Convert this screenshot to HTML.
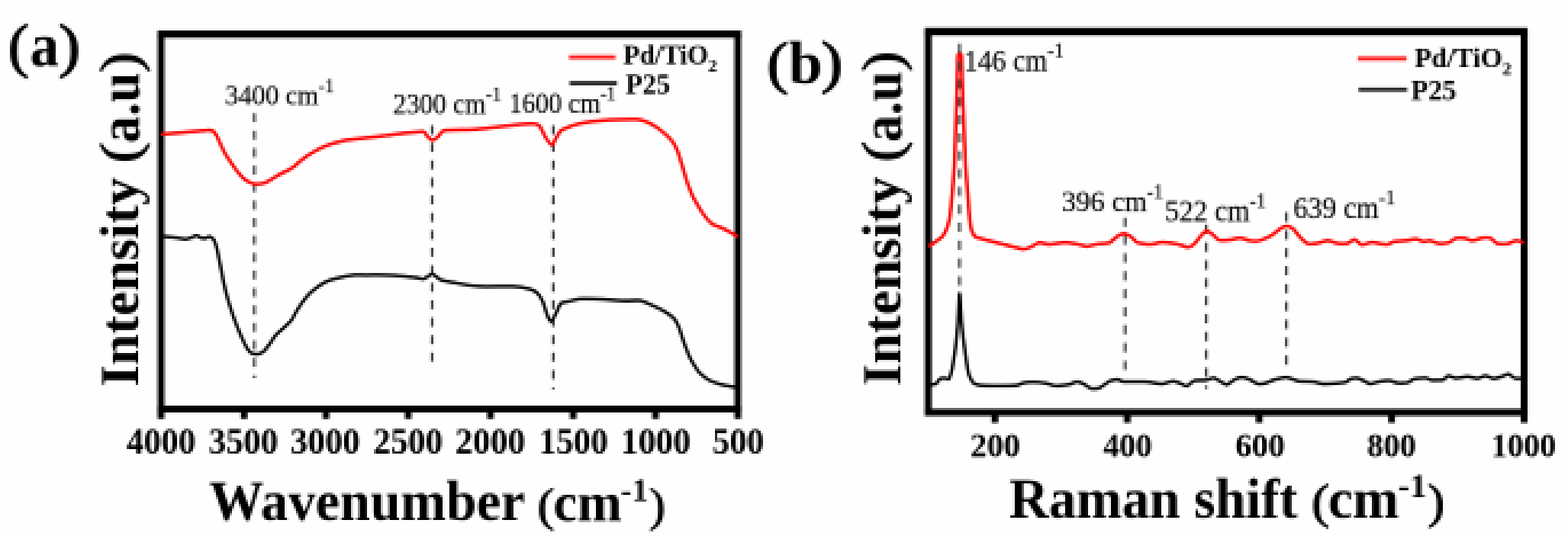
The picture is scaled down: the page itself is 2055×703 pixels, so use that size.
<!DOCTYPE html>
<html lang="en"><head><meta charset="utf-8"><title>FTIR and Raman spectra of Pd/TiO2 and P25</title>
<style>
html,body{margin:0;padding:0;background:#fefefe;}
body{width:2055px;height:703px;overflow:hidden;}
svg{display:block;font-family:"Liberation Serif","Times New Roman",serif;font-size:100px;}
text{white-space:pre;}
.c{fill:none;stroke-linejoin:round;stroke-linecap:butt;}
.d line{stroke:#444;stroke-width:3.6;stroke-dasharray:11.8 11.12;}
.d .b{stroke-dasharray:12.2 11.27;}
</style></head>
<body>
<svg width="2055" height="703" viewBox="0 0 2055 703">
<defs><filter id="px" x="0" y="0" width="2055" height="703" filterUnits="userSpaceOnUse" color-interpolation-filters="sRGB">
<feConvolveMatrix in="SourceGraphic" order="3" kernelMatrix="1 1 1 1 1 1 1 1 1" divisor="9" edgeMode="duplicate" preserveAlpha="true" result="avg"/>
<feFlood x="2" y="2" width="1" height="1" flood-color="#000" result="dot"/>
<feComposite in="dot" in2="dot" operator="over" x="1" y="1" width="3" height="3" result="cell"/>
<feTile in="cell" x="0" y="0" width="2055" height="703" result="grid"/>
<feComposite in="avg" in2="grid" operator="in" result="smp"/>
<feMorphology in="smp" operator="dilate" radius="1"/>
</filter></defs>
<g filter="url(#px)">
<rect width="2055" height="703" fill="#fefefe"/>
<g class="d">
<line x1="333.4" y1="148.5" x2="333.4" y2="496"/>
<line x1="566.4" y1="164.6" x2="566.4" y2="475.2"/>
<line x1="725.2" y1="164.6" x2="725.2" y2="511"/>
<line x1="1474.6" y1="285.4" x2="1474.6" y2="487.5" class="b"/>
<line x1="1580.9" y1="294.5" x2="1580.9" y2="510" class="b"/>
<line x1="1685.9" y1="278.5" x2="1685.9" y2="481.2" class="b"/>
</g>
<g class="c">
<path d="M211.0,309.7 C212.9,309.9 226.6,311.2 229.9,311.6 C233.2,312.0 241.6,313.7 243.7,313.7 C245.8,313.7 249.8,312.1 251.2,311.6 C252.5,311.1 255.9,308.8 257.2,308.8 C258.5,308.8 262.8,311.6 264.0,312.0 C265.2,312.4 268.2,312.6 269.3,312.4 C270.4,312.2 273.6,310.1 274.7,310.3 C275.8,310.5 279.0,312.5 280.0,314.1 C281.0,315.7 283.4,322.3 284.3,325.9 C285.2,329.5 288.2,345.2 289.2,350.0 C290.2,354.8 292.8,369.2 293.9,374.0 C295.0,378.8 298.9,393.5 300.3,398.1 C301.7,402.7 306.2,416.1 307.7,420.2 C309.2,424.3 313.6,435.3 315.1,438.7 C316.6,442.1 321.1,452.0 322.5,454.4 C323.9,456.8 327.5,461.8 329.0,462.8 C330.5,463.8 335.6,464.8 337.3,464.6 C339.0,464.4 344.0,462.2 345.6,460.9 C347.2,459.6 351.4,453.8 353.0,451.7 C354.6,449.6 359.4,441.8 361.3,439.6 C363.2,437.4 370.4,431.4 372.4,429.5 C374.4,427.6 380.0,422.4 381.7,420.2 C383.4,418.0 387.6,409.7 389.1,407.3 C390.6,404.9 394.8,398.4 396.5,396.2 C398.2,394.0 403.7,387.1 405.7,385.1 C407.7,383.1 414.4,377.6 416.8,375.9 C419.2,374.2 426.7,369.7 429.7,368.5 C432.7,367.3 442.9,364.7 446.4,363.9 C449.9,363.1 461.5,361.0 464.8,360.7 C468.1,360.4 476.2,360.8 479.6,360.8 C483.0,360.8 494.8,360.5 498.7,360.6 C502.6,360.7 513.9,361.1 518.4,361.4 C522.9,361.7 540.3,363.6 544.0,364.0 C547.7,364.4 553.5,366.2 555.7,365.7 C557.9,365.2 564.2,359.2 566.4,359.3 C568.6,359.4 574.8,366.0 578.1,367.2 C581.4,368.4 594.4,370.6 599.5,371.5 C604.6,372.4 622.0,375.3 629.3,375.7 C636.5,376.1 665.6,375.4 672.0,375.7 C678.4,376.0 690.2,378.0 693.4,378.9 C696.6,379.8 702.2,382.6 704.0,384.3 C705.8,386.0 710.1,392.9 711.5,396.0 C712.9,399.1 716.8,412.6 717.9,415.2 C719.0,417.8 721.5,422.1 722.6,421.6 C723.7,421.2 727.5,413.1 728.7,410.7 C730.0,408.3 733.3,399.5 735.1,397.9 C736.9,396.3 744.3,395.6 746.8,395.0 C749.2,394.4 755.8,392.4 759.6,392.1 C763.5,391.8 779.3,392.2 785.3,392.4 C791.3,392.6 814.2,394.3 819.5,394.5 C824.8,394.7 835.3,393.6 838.7,394.1 C842.1,394.6 850.4,398.5 853.6,399.9 C856.8,401.3 867.7,406.6 870.7,408.4 C873.7,410.2 881.6,415.9 883.5,418.0 C885.4,420.1 888.6,426.6 889.9,429.7 C891.2,432.8 894.8,444.8 896.3,448.9 C897.8,453.0 902.9,466.5 904.8,470.3 C906.7,474.1 913.1,484.5 915.5,487.3 C917.9,490.1 925.3,496.3 928.3,498.0 C931.3,499.7 941.5,503.3 945.4,504.4 C949.3,505.5 964.8,508.2 967.0,508.6" stroke="#000" stroke-width="4.3"/>
<path d="M1217.0,504.6 C1218.0,504.5 1225.2,504.1 1226.7,503.3 C1228.2,502.5 1230.8,497.6 1232.0,496.9 C1233.2,496.2 1237.2,495.9 1238.4,495.9 C1239.6,495.9 1242.7,498.2 1243.7,496.9 C1244.7,495.6 1247.1,487.3 1248.0,483.1 C1248.9,478.9 1251.5,461.3 1252.3,455.3 C1253.0,449.3 1255.0,430.3 1255.5,423.3 C1256.0,416.3 1257.1,384.9 1257.6,384.9 C1258.1,384.9 1259.6,416.3 1260.2,423.3 C1260.8,430.3 1263.1,448.7 1264.0,455.3 C1264.9,461.9 1268.1,484.8 1269.3,489.5 C1270.5,494.2 1274.1,500.7 1275.7,502.3 C1277.3,503.9 1282.2,505.1 1285.3,505.5 C1288.4,505.9 1302.0,506.1 1306.7,506.1 C1311.4,506.1 1328.9,505.9 1332.3,505.5 C1335.7,505.1 1338.7,502.7 1340.8,502.3 C1342.9,501.9 1350.6,501.2 1353.6,501.2 C1356.6,501.2 1367.7,502.2 1370.7,502.7 C1373.7,503.2 1380.5,505.9 1383.5,506.1 C1386.5,506.3 1397.8,504.9 1400.6,504.4 C1403.4,503.8 1409.3,500.7 1411.2,500.6 C1413.1,500.5 1417.9,502.4 1419.8,503.3 C1421.7,504.2 1428.3,509.2 1430.4,509.7 C1432.5,510.2 1438.8,509.7 1441.1,508.7 C1443.4,507.7 1451.6,501.2 1453.9,500.1 C1456.2,499.0 1462.7,497.6 1464.6,497.6 C1466.5,497.7 1469.4,500.3 1473.1,500.6 C1476.8,500.9 1496.3,500.4 1501.3,500.7 C1506.3,501.0 1519.1,503.6 1522.7,503.5 C1526.3,503.4 1535.0,499.9 1537.6,499.9 C1540.2,499.9 1546.5,502.9 1548.3,503.5 C1550.1,504.1 1554.0,506.7 1555.7,506.3 C1557.4,505.9 1562.8,500.0 1565.3,499.2 C1567.8,498.4 1577.7,499.0 1580.3,498.6 C1582.9,498.2 1589.0,495.4 1590.9,495.6 C1592.8,495.8 1597.8,499.4 1599.5,500.3 C1601.2,501.2 1606.2,504.7 1608.0,504.5 C1609.8,504.3 1615.7,499.1 1617.6,498.1 C1619.5,497.1 1625.2,494.9 1627.2,494.9 C1629.2,494.9 1635.8,496.8 1637.9,497.7 C1640.0,498.6 1646.5,503.0 1648.6,503.5 C1650.7,504.0 1657.1,502.9 1659.2,502.4 C1661.3,501.9 1667.2,498.9 1669.9,498.1 C1672.6,497.4 1682.7,494.7 1685.9,494.9 C1689.1,495.1 1698.4,499.3 1701.9,499.9 C1705.4,500.5 1717.9,500.3 1721.1,500.7 C1724.3,501.1 1730.5,503.3 1733.9,503.5 C1737.3,503.7 1752.0,502.6 1755.0,502.4 C1758.0,502.2 1762.0,501.8 1763.5,501.3 C1765.0,500.8 1768.4,497.6 1769.9,497.1 C1771.4,496.6 1776.8,495.8 1778.5,496.0 C1780.2,496.2 1785.3,498.4 1787.0,499.2 C1788.7,499.9 1793.4,503.4 1795.5,503.5 C1797.6,503.6 1805.7,500.7 1808.3,500.3 C1810.9,499.9 1818.8,499.0 1821.1,499.2 C1823.4,499.4 1829.5,502.1 1831.8,502.4 C1834.1,502.7 1842.5,502.5 1844.6,502.0 C1846.7,501.5 1850.8,497.7 1853.1,497.1 C1855.4,496.5 1865.8,495.5 1868.1,495.6 C1870.4,495.8 1874.3,498.4 1876.6,498.6 C1878.9,498.9 1889.4,498.7 1891.5,498.1 C1893.6,497.5 1896.2,493.0 1897.9,492.8 C1899.6,492.6 1906.0,495.9 1908.6,496.0 C1911.2,496.1 1920.7,493.9 1923.5,493.9 C1926.3,493.9 1934.0,496.5 1936.3,496.4 C1938.6,496.3 1944.9,492.8 1947.0,492.8 C1949.1,492.8 1955.6,496.3 1957.7,496.4 C1959.8,496.5 1966.4,494.5 1968.3,493.9 C1970.2,493.3 1975.2,490.5 1976.9,490.7 C1978.6,490.9 1983.4,495.4 1985.4,496.0 C1987.4,496.6 1995.8,496.4 1997.0,496.4" stroke="#000" stroke-width="4.3"/>
</g>
<g fill="#000">
<rect x="206.7" y="39.9" width="764.7" height="9.8"/>
<rect x="206.7" y="532.1" width="764.7" height="8.8"/>
<rect x="206.7" y="44.8" width="8.7" height="491.7"/>
<rect x="962.6" y="44.8" width="8.7" height="491.7"/>
<rect x="206.6" y="536.5" width="8.8" height="12.8"/>
<rect x="315.5" y="536.5" width="8.8" height="12.8"/>
<rect x="422.8" y="536.5" width="8.8" height="12.8"/>
<rect x="530.6" y="536.5" width="8.8" height="12.8"/>
<rect x="638.4" y="536.5" width="8.8" height="12.8"/>
<rect x="746.8" y="536.5" width="8.8" height="12.8"/>
<rect x="854.7" y="536.5" width="8.8" height="12.8"/>
<rect x="962.6" y="536.5" width="8.8" height="12.8"/>
</g>
<g fill="#000">
<rect x="1211.9" y="36.4" width="790.2" height="10.1"/>
<rect x="1211.9" y="536.2" width="790.2" height="9.4"/>
<rect x="1211.9" y="41.4" width="9.1" height="499.5"/>
<rect x="1993.0" y="41.4" width="9.1" height="499.5"/>
<rect x="1299.5" y="540.9" width="8.8" height="13.6"/>
<rect x="1473.0" y="540.9" width="8.8" height="13.6"/>
<rect x="1645.9" y="540.9" width="8.8" height="13.6"/>
<rect x="1819.5" y="540.9" width="8.8" height="13.6"/>
<rect x="1993.1" y="540.9" width="8.8" height="13.6"/>
</g>
<g class="c">
<path d="M211.0,176.2 C213.1,176.0 227.8,174.9 232.0,174.5 C236.2,174.1 249.5,172.8 253.3,172.4 C257.1,172.0 267.8,171.0 270.4,170.9 C273.0,170.8 277.5,171.0 278.9,171.8 C280.3,172.6 283.2,176.8 284.3,178.7 C285.4,180.6 288.5,188.2 289.6,190.4 C290.7,192.6 293.6,198.9 294.9,201.1 C296.2,203.3 300.8,210.5 302.4,212.8 C304.0,215.2 309.2,222.5 310.9,224.6 C312.6,226.7 317.8,232.7 319.5,234.2 C321.2,235.7 326.3,238.8 328.0,239.5 C329.7,240.2 334.6,241.6 336.5,241.6 C338.4,241.6 345.3,240.5 347.2,239.9 C349.1,239.3 353.8,236.3 355.7,235.2 C357.6,234.1 364.3,230.0 366.4,228.8 C368.5,227.6 375.2,224.6 377.1,223.5 C379.0,222.4 383.9,219.5 385.6,218.2 C387.3,216.9 392.5,212.1 394.2,210.7 C395.9,209.3 400.8,205.6 402.7,204.3 C404.6,203.0 411.3,199.1 413.4,197.9 C415.5,196.7 421.9,193.5 424.0,192.6 C426.1,191.7 432.6,189.4 434.7,188.7 C436.8,188.0 443.3,186.2 445.4,185.7 C447.5,185.2 453.2,184.0 456.0,183.6 C458.8,183.2 468.8,182.0 473.1,181.5 C477.4,181.0 492.7,179.4 498.7,178.7 C504.7,178.0 527.7,174.9 533.3,174.3 C538.9,173.7 552.0,172.4 554.7,172.8 C557.4,173.2 558.8,177.5 560.0,178.6 C561.2,179.7 565.0,183.8 566.4,183.9 C567.8,184.0 572.3,180.9 573.9,179.6 C575.5,178.3 577.9,172.1 582.4,171.1 C586.9,170.1 611.9,170.4 618.7,170.0 C625.5,169.6 644.3,167.5 650.7,166.8 C657.1,166.1 677.6,163.4 682.7,163.0 C687.8,162.6 699.3,162.2 701.9,162.6 C704.5,163.0 707.0,165.1 708.3,166.8 C709.6,168.5 713.2,177.2 714.7,179.6 C716.2,181.9 721.7,190.3 723.2,190.3 C724.7,190.3 728.3,181.6 729.6,179.6 C730.9,177.6 733.6,172.3 736.0,170.7 C738.4,169.1 749.4,164.9 753.3,163.8 C757.2,162.7 770.4,160.1 774.7,159.5 C779.0,158.9 791.7,157.7 796.0,157.4 C800.3,157.1 813.2,156.8 817.3,156.7 C821.3,156.6 833.3,156.3 836.5,156.7 C839.7,157.1 846.7,159.5 849.3,160.6 C851.9,161.7 859.5,166.2 862.1,168.0 C864.7,169.8 873.0,176.8 875.0,178.7 C877.0,180.6 880.9,185.0 882.3,187.1 C883.7,189.2 887.5,196.9 888.7,199.9 C889.9,202.9 892.8,213.2 894.0,217.0 C895.2,220.8 899.0,234.2 900.4,238.3 C901.8,242.4 906.3,254.1 907.9,257.5 C909.5,260.9 914.7,269.6 916.4,272.4 C918.1,275.2 923.3,283.1 925.0,285.2 C926.7,287.3 931.4,292.4 933.5,293.8 C935.6,295.2 943.9,298.0 946.3,299.1 C948.6,300.2 954.9,303.3 957.0,304.4 C959.1,305.5 966.0,309.8 967.0,310.4" stroke="#ff0000" stroke-width="4.5"/>
<path d="M1217.0,323.2 C1218.0,322.5 1225.2,317.8 1227.1,316.4 C1229.0,315.0 1234.1,311.5 1235.6,309.6 C1237.0,307.7 1240.7,300.3 1241.6,297.7 C1242.5,295.1 1244.3,288.5 1245.0,283.7 C1245.7,278.9 1247.8,256.5 1248.4,249.7 C1249.0,242.9 1250.5,223.1 1250.9,215.7 C1251.3,208.3 1252.0,183.7 1252.3,175.7 C1252.6,167.7 1253.3,143.2 1253.6,135.7 C1253.8,128.2 1254.6,106.9 1254.8,100.7 C1255.0,94.5 1255.2,76.8 1255.5,73.7 C1255.8,70.6 1257.3,70.0 1257.8,70.0 C1258.3,70.0 1259.8,70.6 1260.1,73.7 C1260.4,76.8 1260.6,94.5 1260.8,100.7 C1261.0,106.9 1261.8,128.2 1262.1,135.7 C1262.4,143.2 1263.4,167.7 1263.7,175.7 C1264.0,183.7 1264.9,208.3 1265.3,215.7 C1265.7,223.1 1267.5,242.9 1268.0,249.7 C1268.5,256.5 1270.1,278.6 1270.6,283.7 C1271.1,288.8 1272.3,298.3 1273.1,301.0 C1273.9,303.7 1276.4,309.0 1278.3,310.4 C1280.2,311.8 1288.6,313.8 1291.9,314.7 C1295.2,315.6 1307.3,318.5 1310.9,319.4 C1314.5,320.3 1325.0,323.0 1328.0,323.7 C1331.0,324.4 1338.5,326.8 1340.8,326.8 C1343.1,326.8 1349.4,324.6 1351.5,323.7 C1353.6,322.8 1359.8,318.6 1362.1,318.3 C1364.4,318.0 1371.6,320.4 1375.0,320.4 C1378.4,320.4 1392.5,317.9 1396.3,317.9 C1400.1,317.9 1410.5,319.9 1413.3,320.4 C1416.1,320.9 1421.7,323.2 1424.0,323.2 C1426.3,323.2 1433.8,320.9 1436.8,320.4 C1439.8,319.9 1451.1,319.4 1453.9,318.3 C1456.7,317.2 1462.7,311.0 1464.6,309.8 C1466.5,308.6 1471.4,306.6 1473.1,306.6 C1474.8,306.6 1479.9,308.7 1481.6,309.8 C1483.3,310.9 1487.9,316.9 1490.5,318.0 C1493.1,319.1 1504.5,320.6 1507.7,320.6 C1510.9,320.6 1519.3,317.9 1522.7,317.8 C1526.1,317.7 1538.5,319.3 1541.9,319.9 C1545.3,320.5 1554.5,324.2 1556.8,324.2 C1559.1,324.2 1563.6,321.4 1565.3,319.9 C1567.0,318.4 1572.3,310.9 1573.9,309.2 C1575.5,307.5 1579.8,303.0 1581.3,302.8 C1582.8,302.6 1587.2,305.9 1588.8,307.1 C1590.4,308.3 1595.0,313.9 1597.3,314.6 C1599.6,315.4 1609.5,314.9 1612.3,314.6 C1615.1,314.3 1622.5,311.9 1625.1,312.0 C1627.7,312.1 1635.3,315.2 1637.9,315.6 C1640.5,316.0 1647.9,316.2 1650.7,315.6 C1653.5,315.0 1662.8,310.8 1665.6,309.2 C1668.4,307.6 1676.3,300.9 1678.4,299.6 C1680.5,298.3 1685.3,296.3 1687.0,296.4 C1688.7,296.5 1693.8,299.2 1695.5,300.7 C1697.2,302.2 1702.1,309.5 1704.0,311.4 C1705.9,313.3 1712.4,319.2 1714.7,319.9 C1717.0,320.6 1724.9,319.2 1727.5,318.8 C1730.1,318.4 1737.7,315.6 1740.3,315.6 C1742.9,315.7 1750.5,318.9 1753.1,319.3 C1755.6,319.7 1763.6,319.8 1765.8,319.3 C1768.0,318.8 1773.4,314.0 1775.3,314.2 C1777.2,314.4 1782.7,320.6 1784.9,321.0 C1787.1,321.4 1795.1,317.9 1797.7,317.8 C1800.3,317.7 1808.4,319.6 1810.5,319.9 C1812.6,320.2 1817.3,320.9 1819.0,320.6 C1820.7,320.3 1825.2,317.2 1827.5,316.7 C1829.8,316.2 1839.7,315.9 1842.5,315.6 C1845.3,315.3 1853.0,313.4 1855.3,313.5 C1857.6,313.6 1864.1,316.5 1866.0,316.7 C1867.9,316.9 1872.6,315.3 1874.5,315.6 C1876.4,315.9 1882.9,319.0 1885.2,319.3 C1887.5,319.6 1895.7,319.1 1898.0,318.4 C1900.3,317.7 1906.5,313.0 1908.6,312.4 C1910.7,311.8 1917.2,312.1 1919.3,312.4 C1921.4,312.7 1927.7,315.6 1930.0,315.6 C1932.3,315.6 1940.5,312.3 1942.8,312.0 C1945.1,311.7 1951.5,311.7 1953.4,312.4 C1955.3,313.1 1959.9,318.6 1962.0,319.3 C1964.1,320.1 1972.2,320.3 1974.8,319.9 C1977.4,319.5 1985.4,315.7 1987.6,315.6 C1989.8,315.5 1996.2,318.5 1997.2,318.8" stroke="#ff0000" stroke-width="4.5"/>
</g>
<g class="d">
<line class="b" x1="1257.6" y1="57.3" x2="1257.6" y2="377.5"/>
</g>
<g>
<line x1="745.9" y1="75" x2="806.7" y2="75" stroke="#ff2a2a" stroke-width="5.6"/>
<line x1="746.5" y1="109.1" x2="808.7" y2="109.1" stroke="#2e2e2e" stroke-width="5.6"/>
<line x1="1779.5" y1="76.9" x2="1843.5" y2="76.9" stroke="#ff2a2a" stroke-width="5.6"/>
<line x1="1780.6" y1="117.5" x2="1844.2" y2="117.5" stroke="#2e2e2e" stroke-width="5.6"/>
</g>
<g>
<g aria-label="(a)"><text transform="matrix(0.8255,0,0,0.7827,10.41,86.48)" stroke="#000" stroke-width="2" stroke-linejoin="round">(</text><text transform="matrix(0.7626,0,0,0.8042,39.21,86.00)" font-weight="bold">a</text><text transform="matrix(0.8679,0,0,0.7785,76.46,86.18)" stroke="#000" stroke-width="2" stroke-linejoin="round">)</text></g>
<g aria-label="Intensity (a.u)"><text transform="matrix(0,-0.7258,0.7253,0,181.41,506.94)" font-weight="bold">Intensity</text> <text transform="matrix(0,-0.8218,0.7265,0,181.12,213.98)" stroke="#000" stroke-width="2" stroke-linejoin="round">(</text><text transform="matrix(0,-0.7112,0.7526,0,181.77,187.83)" font-weight="bold">a.u</text><text transform="matrix(0,-0.7964,0.7226,0,180.84,95.09)" stroke="#000" stroke-width="2" stroke-linejoin="round">)</text></g>
<g aria-label="legend a"><text transform="matrix(0.3543,0,0,0.3631,816.77,84.24)" font-weight="bold">Pd/TiO<tspan font-size="66" dy="26">2</tspan></text> <text transform="matrix(0.3622,0,0,0.3716,819.96,123.13)" font-weight="bold">P25</text></g>
<g aria-label="peaks a"><text transform="matrix(0.3530,0,0,0.3577,294.99,137.06)" fill="#111" stroke="#111" stroke-width="1.2" stroke-linejoin="round">3400 cm<tspan font-size="70" dy="-45">-1</tspan></text> <text transform="matrix(0.3510,0,0,0.3737,514.90,148.74)" fill="#111" stroke="#111" stroke-width="1.2" stroke-linejoin="round">2300 cm<tspan font-size="70" dy="-45">-1</tspan></text> <text transform="matrix(0.3454,0,0,0.3737,667.14,148.24)" fill="#111" stroke="#111" stroke-width="1.2" stroke-linejoin="round">1600 cm<tspan font-size="70" dy="-45">-1</tspan></text></g>
<g aria-label="ticks a"><text transform="matrix(0.4530,0,0,0.4770,165.92,594.72)" font-weight="bold">4000</text> <text transform="matrix(0.4557,0,0,0.4770,273.48,594.72)" font-weight="bold">3500</text> <text transform="matrix(0.4578,0,0,0.4770,380.47,594.72)" font-weight="bold">3000</text> <text transform="matrix(0.4557,0,0,0.4770,489.28,594.72)" font-weight="bold">2500</text> <text transform="matrix(0.4578,0,0,0.4770,596.87,594.72)" font-weight="bold">2000</text> <text transform="matrix(0.4521,0,0,0.4770,706.38,594.72)" font-weight="bold">1500</text> <text transform="matrix(0.4596,0,0,0.4770,813.42,594.72)" font-weight="bold">1000</text> <text transform="matrix(0.4507,0,0,0.4770,933.70,594.72)" font-weight="bold">500</text></g>
<g aria-label="Wavenumber (cm-1)"><text transform="matrix(0.7167,0,0,0.7343,274.12,682.00)" font-weight="bold">Wavenumber</text> <text transform="matrix(0.6727,0,0,0.6141,704.15,683.09)" stroke="#000" stroke-width="2" stroke-linejoin="round">(</text><text transform="matrix(0.7020,0,0,0.7271,725.24,682.57)" font-weight="bold">cm</text><text transform="matrix(0.4349,0,0,0.4152,813.48,657.00)" font-weight="bold">-1</text><text transform="matrix(0.6393,0,0,0.6108,850.72,682.86)" stroke="#000" stroke-width="2" stroke-linejoin="round">)</text></g>
<g aria-label="(b)"><text transform="matrix(0.8545,0,0,0.7697,1005.01,107.77)" stroke="#000" stroke-width="2" stroke-linejoin="round">(</text><text transform="matrix(0.7980,0,0,0.7872,1033.40,109.01)" font-weight="bold">b</text><text transform="matrix(0.8679,0,0,0.7656,1075.86,107.47)" stroke="#000" stroke-width="2" stroke-linejoin="round">)</text></g>
<g aria-label="Intensity (a.u)"><text transform="matrix(0,-0.7264,0.7264,0,1180.38,505.84)" font-weight="bold">Intensity</text> <text transform="matrix(0,-0.8218,0.7265,0,1180.02,212.58)" stroke="#000" stroke-width="2" stroke-linejoin="round">(</text><text transform="matrix(0,-0.7112,0.7526,0,1180.77,186.43)" font-weight="bold">a.u</text><text transform="matrix(0,-0.7964,0.7226,0,1179.74,93.69)" stroke="#000" stroke-width="2" stroke-linejoin="round">)</text></g>
<g aria-label="legend b"><text transform="matrix(0.3665,0,0,0.3603,1853.65,88.14)" font-weight="bold">Pd/TiO<tspan font-size="66" dy="26">2</tspan></text> <text transform="matrix(0.3692,0,0,0.3731,1849.35,131.43)" font-weight="bold">P25</text></g>
<g aria-label="peaks b"><text transform="matrix(0.3692,0,0,0.3956,1263.15,92.81)" fill="#111" stroke="#111" stroke-width="1.2" stroke-linejoin="round">146 cm<tspan font-size="70" dy="-45">-1</tspan></text> <text transform="matrix(0.3753,0,0,0.3853,1391.60,277.32)" fill="#111" stroke="#111" stroke-width="1.2" stroke-linejoin="round">396 cm<tspan font-size="70" dy="-45">-1</tspan></text> <text transform="matrix(0.3735,0,0,0.3926,1526.73,290.01)" fill="#111" stroke="#111" stroke-width="1.2" stroke-linejoin="round">522 cm<tspan font-size="70" dy="-45">-1</tspan></text> <text transform="matrix(0.3756,0,0,0.3926,1695.29,285.81)" fill="#111" stroke="#111" stroke-width="1.2" stroke-linejoin="round">639 cm<tspan font-size="70" dy="-45">-1</tspan></text></g>
<g aria-label="ticks b"><text transform="matrix(0.4359,0,0,0.4474,1271.76,599.35)" font-weight="bold">200</text> <text transform="matrix(0.4284,0,0,0.4474,1445.66,599.35)" font-weight="bold">400</text> <text transform="matrix(0.4344,0,0,0.4474,1618.88,599.35)" font-weight="bold">600</text> <text transform="matrix(0.4267,0,0,0.4474,1791.81,599.35)" font-weight="bold">800</text> <text transform="matrix(0.4255,0,0,0.4474,1954.30,599.35)" font-weight="bold">1000</text></g>
<g aria-label="Raman shift (cm-1)"><text transform="matrix(0.7205,0,0,0.7414,1322.52,678.56)" font-weight="bold">Raman shift</text> <text transform="matrix(0.7200,0,0,0.6432,1718.68,679.15)" stroke="#000" stroke-width="2" stroke-linejoin="round">(</text><text transform="matrix(0.7290,0,0,0.7500,1740.45,678.65)" font-weight="bold">cm</text><text transform="matrix(0.4617,0,0,0.4455,1831.98,652.00)" font-weight="bold">-1</text><text transform="matrix(0.6821,0,0,0.6398,1870.64,678.90)" stroke="#000" stroke-width="2" stroke-linejoin="round">)</text></g>
</g>
</g>
</svg>
</body></html>
